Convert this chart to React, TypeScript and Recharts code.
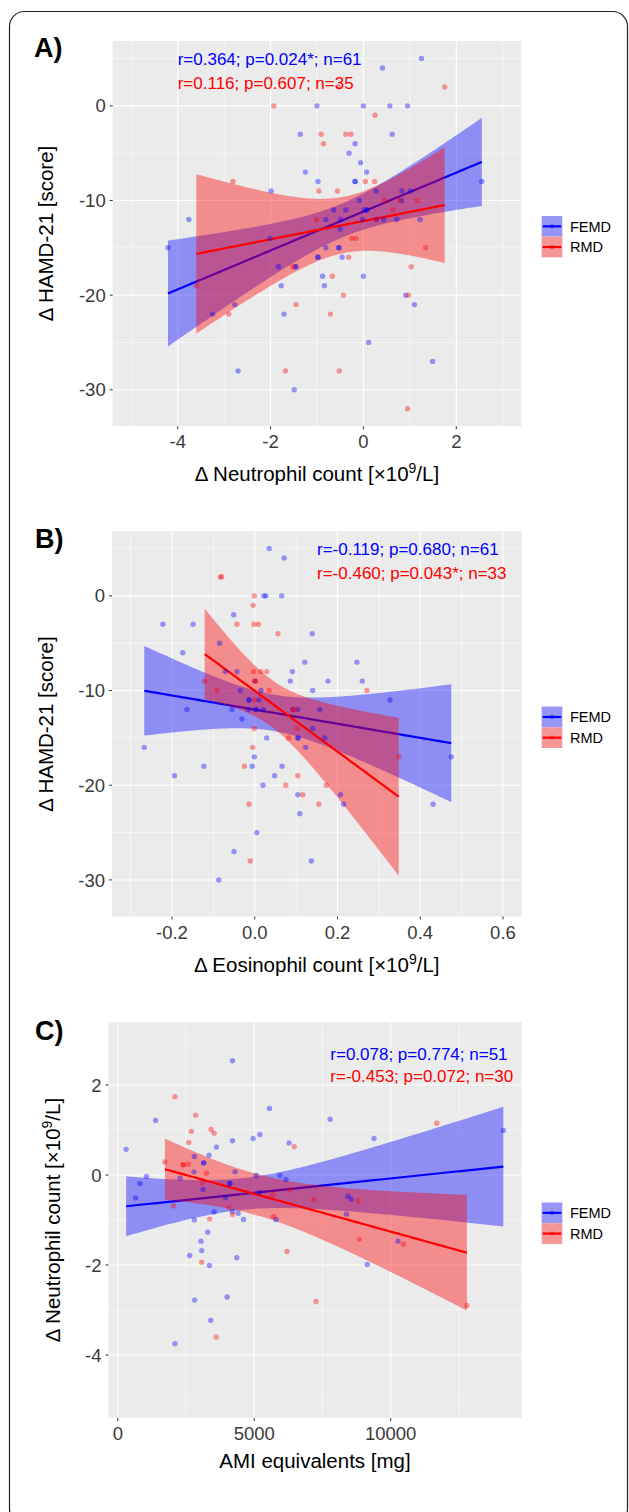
import React from 'react';
import { ComposedChart, Scatter, Area, XAxis, YAxis, CartesianGrid } from 'recharts';

const FONT = '"Liberation Sans", Arial, Helvetica, sans-serif';
const BLUE = '#0000FF';
const RED = '#FF0000';

// ---------- Panel A: Δ Neutrophil count vs Δ HAMD-21 ----------
const neutHamdFEMD: number[][] = [
  [-4.21, -15], [-3.76, -12], [-3.25, -22], [-2.77, -21], [-2.7, -28], [-2.01, -14], [-1.99, -9],
  [-1.83, -17], [-1.77, -19], [-1.71, -22], [-1.49, -30], [-1.46, -17], [-1.46, -17], [-1.36, -3],
  [-1.25, -7], [-1.0, 0], [-0.98, -8], [-0.98, -16], [-0.98, -16], [-0.88, -18], [-0.84, -19],
  [-0.81, -12], [-0.81, -15], [-0.64, -11], [-0.54, -15], [-0.52, -15], [-0.5, -13], [-0.49, -12],
  [-0.46, -16], [-0.38, -11], [-0.31, -5], [-0.18, -4], [-0.18, -8], [-0.18, -8], [-0.09, -10],
  [-0.06, -6], [-0.02, -12], [0, 0], [0, -18], [0.01, -11], [0.07, -11], [0.07, -11], [0.07, -7],
  [0.11, -25], [0.27, -9], [0.28, -12], [0.41, 4], [0.44, -12], [0.57, 0], [0.62, -3], [0.72, -12],
  [0.82, -10], [0.83, -9], [0.91, -20], [0.95, 0], [1.01, -9], [1.1, -21], [1.22, -12], [1.25, 5],
  [1.49, -27], [2.55, -8],
];
const neutHamdRMD: number[][] = [
  [-3.6, -19], [-2.9, -22], [-2.81, -8], [-1.93, 0], [-1.68, -28], [-1.52, -17], [-1.45, -21],
  [-1.01, -12], [-0.96, -9], [-0.91, -3], [-0.86, -4], [-0.71, -22], [-0.67, -18], [-0.56, -9],
  [-0.54, 2], [-0.52, -28], [-0.43, -20], [-0.38, -3], [-0.32, -16], [-0.27, -3], [-0.25, -14],
  [-0.16, -14], [0.04, -8], [0.24, -8], [0.25, -1], [0.28, -12], [0.45, -10], [0.64, -11],
  [0.78, -10], [0.95, -32], [0.97, -20], [1.03, -17], [1.16, -10], [1.34, -15], [1.75, 2],
];
const aXTicks = [-4, -2, 0, 2];
const aXMinor = [-5, -3, -1, 1, 3];
const hamdTicks = [-30, -20, -10, 0];
const hamdMinor = [-25, -15, -5, 5];

// ---------- Panel B: Δ Eosinophil count vs Δ HAMD-21 ----------
const eosHamdFEMD: number[][] = [
  [-0.267, -16], [-0.222, -3], [-0.194, -19], [-0.174, -6], [-0.164, -12], [-0.149, -3], [-0.123, -18],
  [-0.087, -30], [-0.085, -5], [-0.071, -8], [-0.055, -12], [-0.051, -2], [-0.05, -27], [-0.043, -8],
  [-0.035, -10], [-0.031, -13], [-0.016, -12], [-0.014, -11], [-0.014, -11], [-0.006, -18], [-0.001, -17],
  [0.001, -9], [0.003, -12], [0.003, -12], [0.005, -25], [0.01, -11], [0.015, -10], [0.02, -20],
  [0.021, -12], [0.022, 0], [0.027, 0], [0.029, -15], [0.035, 5], [0.048, -19], [0.065, 0],
  [0.066, -18], [0.071, 4], [0.086, -9], [0.091, -8], [0.092, -12], [0.104, -12], [0.104, -21],
  [0.105, -15], [0.104, -15], [0.109, -23], [0.121, -7], [0.123, -16], [0.137, -28], [0.139, -4],
  [0.14, -10], [0.14, -14], [0.157, -12], [0.169, -15], [0.177, -9], [0.207, -21], [0.215, -22],
  [0.247, -7], [0.26, -9], [0.327, -11], [0.431, -22], [0.475, -17],
];
const eosHamdRMD: number[][] = [
  [-0.121, -9], [-0.091, -10], [-0.083, 2], [-0.08, 2], [-0.043, -3], [-0.025, -18], [-0.014, -22],
  [-0.011, -28], [-0.005, -16], [-0.004, -1], [-0.003, -8], [-0.002, -3], [-0.001, 0], [-0.001, -11],
  [-0.001, -14], [0.0, -9], [0.002, -9], [0.009, -3], [0.015, -8], [0.029, -8], [0.035, -10],
  [0.056, -4], [0.075, -20], [0.082, -15], [0.092, -12], [0.097, -12], [0.103, -14], [0.104, -19],
  [0.116, -21], [0.155, -22], [0.173, -20], [0.271, -10], [0.348, -17],
];
const bXTicks = [-0.2, 0, 0.2, 0.4, 0.6];
const bXMinor = [-0.3, -0.1, 0.1, 0.3, 0.5];

// ---------- Panel C: AMI equivalents vs Δ Neutrophil count ----------
const amiNeutFEMD: number[][] = [
  [306, 0.57], [649, -0.51], [809, -0.19], [1054, -0.03], [1384, 1.21], [2095, -3.75], [2279, -0.07],
  [2634, -1.79], [2793, 0.07], [2805, 0.41], [2805, -1.0], [2818, -2.78], [3050, -1.47], [3075, -1.68],
  [3124, -0.32], [3148, 0.27], [3148, 0.27], [3295, -1.27], [3344, 0.44], [3357, -2.01], [3406, -3.23],
  [3528, -0.82], [3614, 0.62], [3945, -0.5], [4006, -2.71], [4104, -0.19], [4104, -0.19], [4202, 2.54],
  [4202, 0.76], [4202, -0.81], [4300, 0.07], [4361, -1.84], [4410, -0.85], [4606, -0.99], [4961, 0.81],
  [5072, -0.01], [5194, -0.39], [5206, 0.9], [5561, 1.48], [5794, -0.99], [5941, -0.01], [6162, -0.1],
  [6276, 0.71], [7783, 1.24], [8383, -0.87], [8432, -0.47], [8555, -0.54], [9143, -1.99], [9388, 0.81],
  [10270, -1.47], [14128, 0.99],
];
const amiNeutRMD: number[][] = [
  [1727, 0.29], [2046, -0.69], [2095, 1.74], [2401, 0.23], [2401, 0.23], [2585, 0.24], [2597, 0.72],
  [2695, 0.97], [2854, 1.33], [3075, -1.94], [3099, -0.17], [3246, 0.04], [3369, -0.98], [3418, 1.01],
  [3528, 0.93], [3602, -3.6], [4067, -0.73], [4202, -0.88], [5672, -0.44], [5709, -0.92], [6199, -1.7],
  [6297, -0.33], [6468, 0.63], [7191, -0.55], [7264, -2.81], [8803, -0.57], [8852, -1.43],
  [10466, -1.54], [11690, 1.15], [12793, -2.9],
];
const cXTicks = [0, 5000, 10000];
const cXMinor = [2500, 7500, 12500];
const cYTicks = [-4, -2, 0, 2];
const cYMinor = [-5, -3, -1, 1, 3];

// ---------- linear model with 95% confidence band (as geom_smooth(method = "lm")) ----------
function tQuantile(df: number) {
  const z = 1.959964;
  const g1 = (z ** 3 + z) / 4;
  const g2 = (5 * z ** 5 + 16 * z ** 3 + 3 * z) / 96;
  const g3 = (3 * z ** 7 + 19 * z ** 5 + 17 * z ** 3 - 15 * z) / 384;
  return z + g1 / df + g2 / df ** 2 + g3 / df ** 3;
}
function lmBand(pts: number[][], steps = 80) {
  const n = pts.length;
  const mx = pts.reduce((s, p) => s + p[0], 0) / n;
  const my = pts.reduce((s, p) => s + p[1], 0) / n;
  let sxx = 0, sxy = 0;
  pts.forEach((p) => { sxx += (p[0] - mx) ** 2; sxy += (p[0] - mx) * (p[1] - my); });
  const b = sxy / sxx;
  const a = my - b * mx;
  let sse = 0;
  pts.forEach((p) => { sse += (p[1] - a - b * p[0]) ** 2; });
  const s = Math.sqrt(sse / (n - 2));
  const t = tQuantile(n - 2);
  const xs = pts.map((p) => p[0]);
  const lo = Math.min(...xs), hi = Math.max(...xs);
  const out: { x: number; fit: number; band: number[] }[] = [];
  for (let i = 0; i <= steps; i++) {
    const x = lo + ((hi - lo) * i) / steps;
    const yh = a + b * x;
    const se = s * Math.sqrt(1 / n + (x - mx) ** 2 / sxx);
    out.push({ x, fit: yh, band: [yh - t * se, yh + t * se] });
  }
  return out;
}

type Plot = { l: number; r: number; t: number; b: number };
type PanelProps = {
  plot: Plot; xDomain: number[]; yDomain: number[]; xTicks: number[]; yTicks: number[];
  xMinor: number[]; yMinor: number[]; femd: number[][]; rmd: number[][]; xFmt: (v: number) => string;
};

const dot = (color: string) => (props: any) => (
  <circle cx={props.cx} cy={props.cy} r={2.7} fill={color} fillOpacity={0.38} stroke="none" />
);

function Panel(p: PanelProps) {
  const padT = 20, padB = 40, yAxisW = 60;
  const height = p.plot.b - p.plot.t + padT + padB;
  const fF = lmBand(p.femd);
  const fR = lmBand(p.rmd);
  const tickStyle = { fill: '#3A3A3A', fontSize: 18.5, fontFamily: FONT };
  return (
    <div style={{ position: 'absolute', left: 0, top: p.plot.t - padT }}>
      <ComposedChart
        width={629}
        height={height}
        margin={{ top: padT, bottom: 0, left: p.plot.l - yAxisW, right: 629 - p.plot.r }}
      >
        <CartesianGrid fill="#EBEBEB" stroke="#FFFFFF" strokeWidth={0.55} horizontalValues={p.yMinor} verticalValues={p.xMinor} />
        <CartesianGrid stroke="#FFFFFF" strokeWidth={1.1} horizontalValues={p.yTicks} verticalValues={p.xTicks} />
        <XAxis
          type="number" dataKey="x" domain={p.xDomain} ticks={p.xTicks} allowDataOverflow interval={0}
          height={padB} axisLine={false} tickLine={{ stroke: '#333333' }} tickSize={3} tickMargin={6}
          tick={tickStyle} tickFormatter={p.xFmt}
        />
        <YAxis
          type="number" domain={p.yDomain} ticks={p.yTicks} allowDataOverflow interval={0}
          width={yAxisW} axisLine={false} tickLine={{ stroke: '#333333' }} tickSize={3} tickMargin={4}
          tick={tickStyle}
        />
        <Scatter data={p.femd.map(([x, y]) => ({ x, y }))} dataKey="y" shape={dot(BLUE)} isAnimationActive={false} />
        <Scatter data={p.rmd.map(([x, y]) => ({ x, y }))} dataKey="y" shape={dot(RED)} isAnimationActive={false} />
        <Area data={fF} dataKey="band" type="linear" stroke="none" fill={BLUE} fillOpacity={0.4} dot={false} activeDot={false} isAnimationActive={false} />
        <Area data={fF} dataKey="fit" type="linear" stroke={BLUE} strokeWidth={2.2} fill="none" dot={false} activeDot={false} isAnimationActive={false} />
        <Area data={fR} dataKey="band" type="linear" stroke="none" fill={RED} fillOpacity={0.4} dot={false} activeDot={false} isAnimationActive={false} />
        <Area data={fR} dataKey="fit" type="linear" stroke={RED} strokeWidth={2.2} fill="none" dot={false} activeDot={false} isAnimationActive={false} />
      </ComposedChart>
    </div>
  );
}

const plotA: Plot = { l: 112.7, r: 521.3, t: 40.85, b: 426.1 };
const plotB: Plot = { l: 112, r: 521.6, t: 531.4, b: 916.8 };
const plotC: Plot = { l: 108.5, r: 521.4, t: 1022, b: 1418 };

function Legend({ plot }: { plot: Plot }) {
  const mid = (plot.t + plot.b) / 2 + 3.2;
  const x = 541.7, w = 20.6, h = 20.7;
  const items = [
    { name: 'FEMD', color: BLUE, y: mid - h },
    { name: 'RMD', color: RED, y: mid },
  ];
  return (
    <g>
      {items.map((it) => (
        <g key={it.name}>
          <rect x={x} y={it.y} width={w} height={h} fill="#F2F2F2" />
          <rect x={x} y={it.y} width={w} height={h} fill={it.color} fillOpacity={0.38} />
          <line x1={x + 1} x2={x + w - 1} y1={it.y + h / 2} y2={it.y + h / 2} stroke={it.color} strokeWidth={2.2} />
          <circle cx={x + w / 2} cy={it.y + h / 2} r={2.4} fill={it.color} fillOpacity={0.35} />
          <text x={570} y={it.y + h / 2 + 5.3} fontSize={14.5} fontFamily={FONT} fill="#000">{it.name}</text>
        </g>
      ))}
    </g>
  );
}

function YTitle({ x, plot, children }: { x: number; plot: Plot; children: React.ReactNode }) {
  const cy = (plot.t + plot.b) / 2;
  return (
    <text transform={`translate(${x},${cy}) rotate(-90)`} textAnchor="middle" fontSize={20.5} fontFamily={FONT} fill="#000">
      {children}
    </text>
  );
}
function XTitle({ y, plot, children }: { y: number; plot: Plot; children: React.ReactNode }) {
  const cx = (plot.l + plot.r) / 2;
  return (
    <text x={cx} y={y} textAnchor="middle" fontSize={20.5} fontFamily={FONT} fill="#000">
      {children}
    </text>
  );
}
const Sup9 = () => (
  <>
    {'[×10'}
    <tspan dy={-8} fontSize={14}>9</tspan>
    <tspan dy={8}>/L]</tspan>
  </>
);

export default function App() {
  const annot = { fontSize: 17, fontFamily: FONT };
  const lab = { fontSize: 27, fontFamily: FONT, fontWeight: 700, fill: '#000' };
  return (
    <div style={{ position: 'absolute', left: 0, top: 0, width: 629, height: 1512, background: '#FFFFFF', overflow: 'hidden' }}>
      <Panel plot={plotA} xDomain={[-5.4, 3.4]} yDomain={[-33.85, 6.85]} xTicks={aXTicks} yTicks={hamdTicks}
        xMinor={aXMinor} yMinor={hamdMinor} femd={neutHamdFEMD} rmd={neutHamdRMD} xFmt={(v) => String(v)} />
      <Panel plot={plotB} xDomain={[-0.345, 0.645]} yDomain={[-33.85, 6.85]} xTicks={bXTicks} yTicks={hamdTicks}
        xMinor={bXMinor} yMinor={hamdMinor} femd={eosHamdFEMD} rmd={eosHamdRMD} xFmt={(v) => v.toFixed(1)} />
      <Panel plot={plotC} xDomain={[-340, 14790]} yDomain={[-5.4, 3.4]} xTicks={cXTicks} yTicks={cYTicks}
        xMinor={cXMinor} yMinor={cYMinor} femd={amiNeutFEMD} rmd={amiNeutRMD} xFmt={(v) => String(v)} />
      <svg width={629} height={1512} style={{ position: 'absolute', left: 0, top: 0, pointerEvents: 'none' }}>
        <rect x={9.5} y={11.5} width={618} height={1512} rx={15} ry={15} fill="none" stroke="#222" strokeWidth={1.2} />

        <text x={34} y={57} {...lab}>A)</text>
        <text x={35} y={548} {...lab}>B)</text>
        <text x={35} y={1040} {...lab}>C)</text>

        <text x={177.7} y={65} fill={BLUE} {...annot}>r=0.364; p=0.024*; n=61</text>
        <text x={177.7} y={88.5} fill={RED} {...annot}>r=0.116; p=0.607; n=35</text>
        <text x={317} y={555.3} fill={BLUE} {...annot}>r=-0.119; p=0.680; n=61</text>
        <text x={317} y={578.7} fill={RED} {...annot}>r=-0.460; p=0.043*; n=33</text>
        <text x={330.3} y={1060.3} fill={BLUE} {...annot}>r=0.078; p=0.774; n=51</text>
        <text x={330.3} y={1082} fill={RED} {...annot}>r=-0.453; p=0.072; n=30</text>

        <YTitle x={52.5} plot={plotA}>Δ HAMD-21 [score]</YTitle>
        <YTitle x={52.5} plot={plotB}>Δ HAMD-21 [score]</YTitle>
        <YTitle x={59.5} plot={plotC}>Δ Neutrophil count <Sup9 /></YTitle>

        <XTitle y={481} plot={plotA}>Δ Neutrophil count <Sup9 /></XTitle>
        <XTitle y={972} plot={plotB}>Δ Eosinophil count <Sup9 /></XTitle>
        <XTitle y={1468} plot={plotC}>AMI equivalents [mg]</XTitle>

        <Legend plot={plotA} />
        <Legend plot={plotB} />
        <Legend plot={plotC} />
      </svg>
    </div>
  );
}
